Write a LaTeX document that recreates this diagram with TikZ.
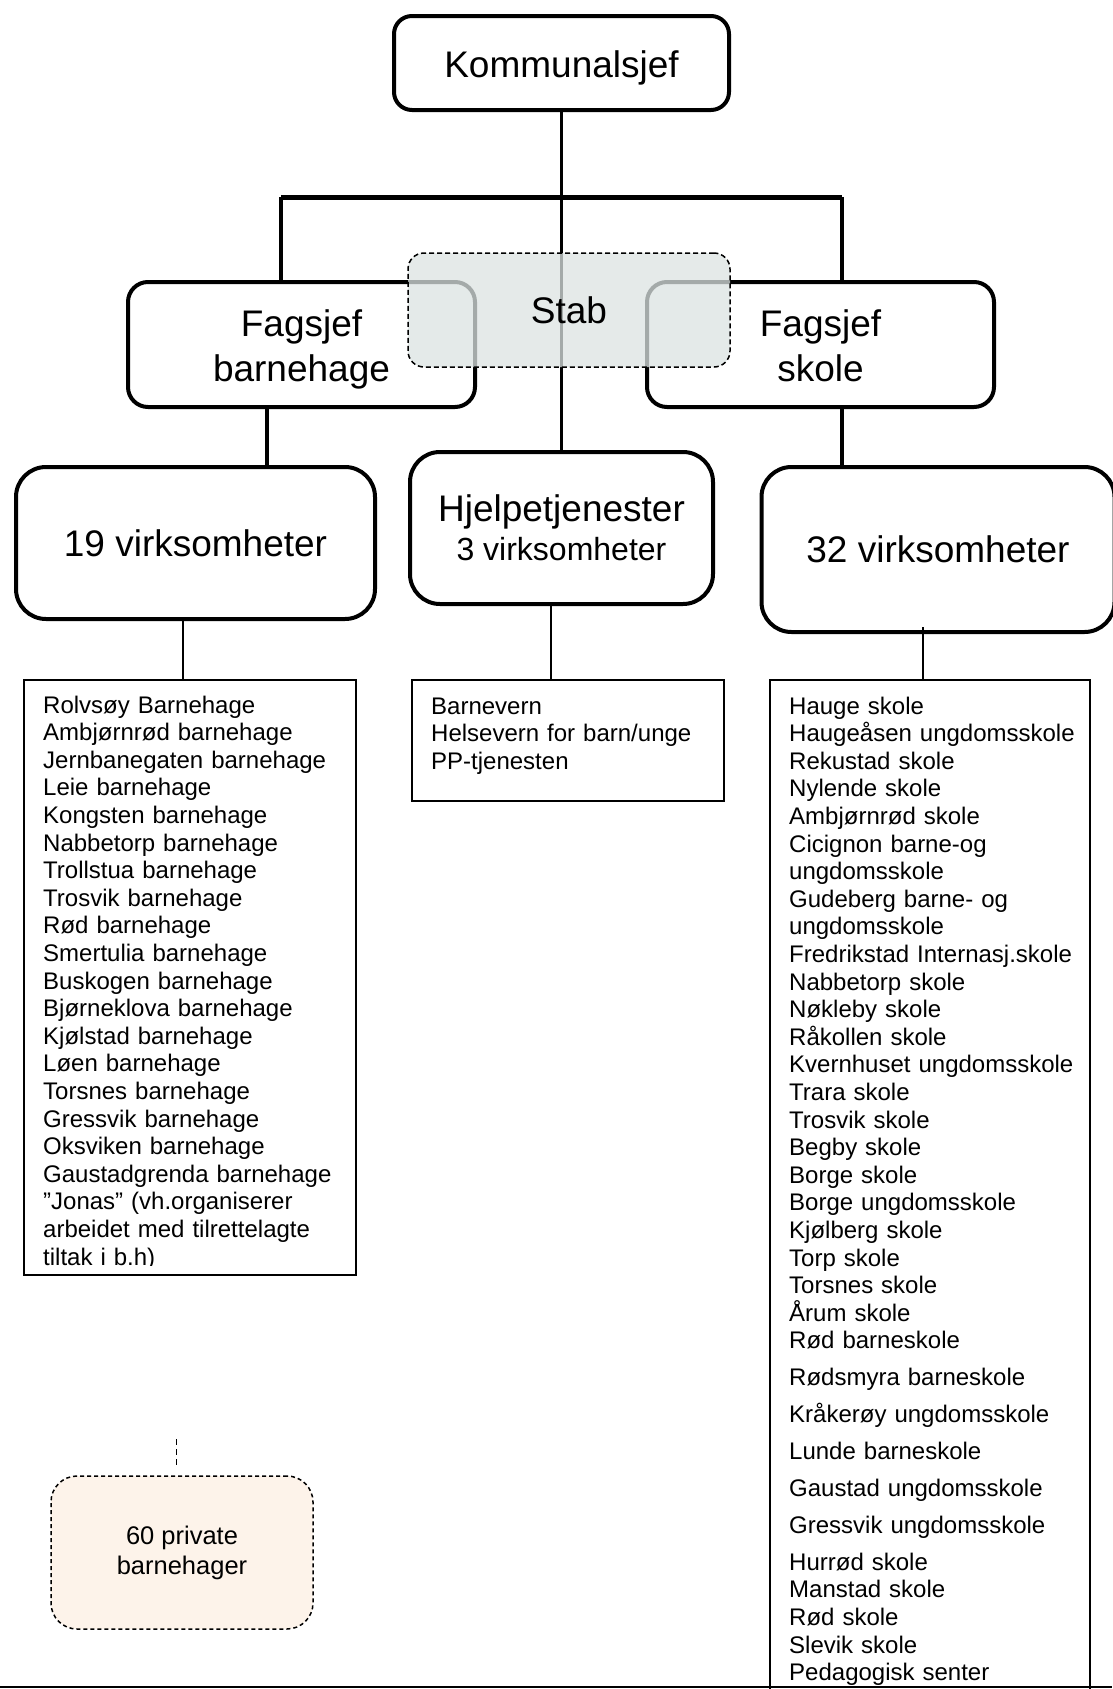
\documentclass[tikz,border=0pt]{standalone}
\usepackage{fontspec}
\setmainfont{Liberation Sans}
\usepackage{xcolor}
\usepackage{tikz}

\definecolor{stabgris}{RGB}{220,227,226}
\definecolor{privpeche}{RGB}{253,243,234}

\begin{document}
\begin{tikzpicture}[x=1pt,y=-1pt,
    boite/.style={draw, line width=4pt, rounded corners=18pt, fill=white, align=center, inner sep=0pt,
                  font=\fontsize{37}{45}\selectfont},
    ligne/.style={line width=3.5pt},
    fin/.style={line width=1.5pt},
    listeboite/.style={draw, line width=1.8pt, inner sep=0pt, anchor=north west},
    liste/.style={inner sep=0pt, anchor=base west, text width=330pt, align=left,
                  font=\fontsize{24}{27.6}\selectfont}]
        % Cadre de la page
        \useasboundingbox (0,0) rectangle (1112,1689);

        % Points de passage des traits
        \coordinate (barreG) at (281,197);
        \coordinate (barreD) at (842,197);
        \coordinate (piedbh) at (267,0);
        \coordinate (fil19) at (183,0);
        \coordinate (filhj) at (551,0);
        \coordinate (fil32) at (923,627);
        \coordinate (filpriv) at (176,1439);

        % Boîtes principales
        \node[boite, minimum width=335pt, minimum height=94pt] (kommunal) at (561.5,63) {\rule{0pt}{37pt}Kommunalsjef};
        \node[boite, minimum width=347pt, minimum height=125pt, rounded corners=20pt] (fagbh) at (301.5,344.5)
            {\rule{0pt}{37pt}Fagsjef\\barnehage};
        \node[boite, minimum width=347pt, minimum height=125pt, rounded corners=20pt] (fagsk) at (820.5,344.5)
            {\rule{0pt}{37pt}Fagsjef\\skole\rule[-8pt]{0pt}{8pt}};
        \node[boite, minimum width=359pt, minimum height=152pt, rounded corners=30pt] (virk19) at (195.5,543) {19 virksomheter};
        \node[boite, minimum width=303pt, minimum height=152pt, rounded corners=30pt] (hjelp) at (561.5,528)
            {Hjelpetjenester\\[-6pt]{\fontsize{32}{38}\selectfont 3 virksomheter}};
        \node[boite, minimum width=353pt, minimum height=165pt, rounded corners=30pt] (virk32) at (938,549.5) {32 virksomheter};

        % Liaisons
        \draw[ligne] (kommunal.south) -- (hjelp.north);
        \draw[line width=5pt] (barreG) -- (barreD);
        \draw[ligne] (barreG) -- (barreG |- fagbh.north);
        \draw[ligne] (barreD) -- (barreD |- fagsk.north);
        \draw[ligne] (fagbh.south -| piedbh) -- (virk19.north -| piedbh);
        \draw[ligne] (barreD |- fagsk.south) -- (barreD |- virk32.north);

        % Stab, transparent par-dessus
        \node[draw, line width=1.5pt, dash pattern=on 5pt off 3pt, rounded corners=16pt,
              fill=stabgris, fill opacity=0.75, text opacity=1, minimum width=322pt, minimum height=114pt,
              font=\fontsize{37}{45}\selectfont] (stab) at (569,310) {Stab};

        % Listes des virksomheter
        \node[listeboite, minimum width=332pt, minimum height=595pt] (bhliste) at (23,679) {};
        \node[listeboite, minimum width=312pt, minimum height=121pt] (hjliste) at (411,679) {};
        \node[listeboite, minimum width=320pt, minimum height=1014pt] (skliste) at (769,679) {};

        \draw[fin] (virk19.south -| fil19) -- (bhliste.north -| fil19);
        \draw[fin] (hjelp.south -| filhj) -- (hjliste.north -| filhj);
        \draw[fin] (fil32) -- (skliste.north -| fil32);

        \begin{scope}
            \clip (23,679) rectangle (355,1265);
            \node[liste] (bhtekst) at (43,713) {Rolvsøy Barnehage\\Ambjørnrød barnehage\\Jernbanegaten barnehage\\
                Leie barnehage\\Kongsten barnehage\\Nabbetorp barnehage\\Trollstua barnehage\\Trosvik barnehage\\
                Rød barnehage\\Smertulia barnehage\\Buskogen barnehage\\Bjørneklova barnehage\\Kjølstad barnehage\\
                Løen barnehage\\Torsnes barnehage\\Gressvik barnehage\\Oksviken barnehage\\Gaustadgrenda barnehage\\
                ”Jonas” (vh.organiserer\\arbeidet med tilrettelagte\\tiltak i b.h)};
        \end{scope}

        \node[liste] (hjtekst) at (431,714) {Barnevern\\Helsevern for barn/unge\\PP-tjenesten};

        \node[liste] (sktekst) at (789,714) {Hauge skole\\Haugeåsen ungdomsskole\\Rekustad skole\\Nylende skole\\
            Ambjørnrød skole\\Cicignon barne-og\\ungdomsskole\\Gudeberg barne- og\\ungdomsskole\\
            Fredrikstad Internasj.skole\\Nabbetorp skole\\Nøkleby skole\\Råkollen skole\\Kvernhuset ungdomsskole\\
            Trara skole\\Trosvik skole\\Begby skole\\Borge skole\\Borge ungdomsskole\\Kjølberg skole\\Torp skole\\
            Torsnes skole\\Årum skole\\Rød barneskole\\[9.3pt]Rødsmyra barneskole\\[9.3pt]Kråkerøy ungdomsskole\\[9.3pt]
            Lunde barneskole\\[9.3pt]Gaustad ungdomsskole\\[9.3pt]Gressvik ungdomsskole\\[9.3pt]Hurrød skole\\
            Manstad skole\\Rød skole\\Slevik skole\\Pedagogisk senter};

        % Private barnehager
        \node[draw, line width=1.5pt, dash pattern=on 4pt off 3pt, rounded corners=26pt, fill=privpeche,
              minimum width=262pt, minimum height=153pt, align=center,
              font=\fontsize{25.5}{30}\selectfont] (priv) at (182,1552.5) {60 private\\barnehager};
        \draw[line width=1pt, dash pattern=on 6pt off 4pt, shorten >=7pt] (filpriv) -- (filpriv |- priv.north);

        % Trait du bas
        \draw[line width=2pt] (0,1687) -- (1112,1687);
    \end{tikzpicture}
\end{document}
